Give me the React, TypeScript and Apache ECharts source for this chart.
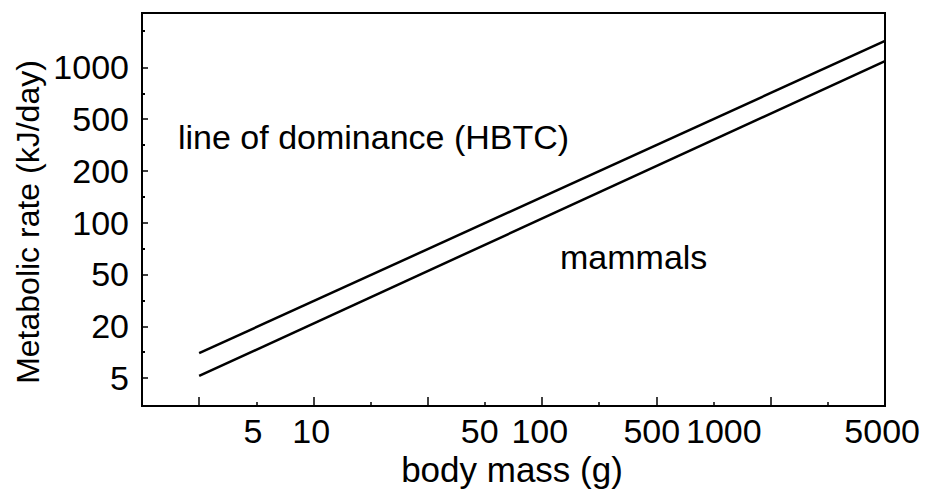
import React, { useEffect, useRef } from "react";
import * as echarts from "echarts";

// Axis positions are in the figure's own evenly spaced tick units
const xTickLabels = ["5", "10", "50", "100", "500", "1000", "5000"];
const xLabelPos = [1.94, 2.96, 5.91, 6.96, 8.92, 10.18, 12.95];
const xMajorTicks = [1, 3, 5, 7, 9, 11];
const xMinorTicks = [2, 4, 6, 8, 10, 12];

const yTickLabels = ["5", "20", "50", "100", "200", "500", "1000"];
const yLabelPos = [0, 1, 2, 3, 4, 5, 6];
const yMinorTicks = [0.5, 1.5, 2.5, 3.5, 4.5, 5.5, 6.7];

const hbtcLine = [
  [1, 0.48],
  [13, 6.51],
];
const mammalsLine = [
  [1, 0.04],
  [13, 6.12],
];

const FONT = "'Liberation Sans', Arial, sans-serif";

export default function App() {
  const ref = useRef<HTMLDivElement>(null);
  useEffect(() => {
    if (!ref.current) return;
    const chart = echarts.init(ref.current, null, { renderer: "svg" });
    const xLabelFor = (v: number) => {
      const i = xLabelPos.findIndex((p) => Math.abs(p - v) < 1e-6);
      return i >= 0 ? xTickLabels[i] : "";
    };
    const yLabelFor = (v: number) => {
      const i = yLabelPos.findIndex((p) => Math.abs(p - v) < 1e-6);
      return i >= 0 ? yTickLabels[i] : "";
    };
    const common = { color: "#000", fontFamily: FONT };
    chart.setOption({
      animation: false,
      backgroundColor: "#fff",
      grid: {
        left: 142,
        right: 40,
        top: 13,
        bottom: 86,
        show: true,
        borderColor: "#000",
        borderWidth: 2,
        containLabel: false,
      },
      xAxis: [
        {
          type: "value",
          min: 0,
          max: 13,
          position: "bottom",
          axisLine: { show: true, onZero: false, lineStyle: { color: "#000", width: 2 } },
          axisTick: {
            show: true,
            inside: true,
            length: 9,
            customValues: xMajorTicks,
            lineStyle: { color: "#000", width: 1.5 },
          },
          axisLabel: {
            show: true,
            customValues: xLabelPos,
            formatter: (v: number) => xLabelFor(v),
            margin: 8,
            fontSize: 34,
            ...common,
          },
          splitLine: { show: false },
        },
        {
          type: "value",
          min: 0,
          max: 13,
          position: "bottom",
          axisLine: { show: false, onZero: false },
          axisTick: {
            show: true,
            inside: true,
            length: 4,
            customValues: xMinorTicks,
            lineStyle: { color: "#000", width: 1.5 },
          },
          axisLabel: { show: false },
          splitLine: { show: false },
        },
      ],
      yAxis: [
        {
          type: "value",
          min: -0.54,
          max: 7.05,
          position: "left",
          axisLine: { show: true, onZero: false, lineStyle: { color: "#000", width: 2 } },
          axisTick: {
            show: true,
            inside: true,
            length: 6,
            customValues: yLabelPos,
            lineStyle: { color: "#000", width: 1.5 },
          },
          axisLabel: {
            show: true,
            customValues: yLabelPos,
            formatter: (v: number) => yLabelFor(v),
            margin: 13,
            fontSize: 34,
            ...common,
          },
          splitLine: { show: false },
        },
        {
          type: "value",
          min: -0.54,
          max: 7.05,
          position: "left",
          axisLine: { show: false, onZero: false },
          axisTick: {
            show: true,
            inside: true,
            length: 3,
            customValues: yMinorTicks,
            lineStyle: { color: "#000", width: 2 },
          },
          axisLabel: { show: false },
          splitLine: { show: false },
        },
      ],
      series: [
        {
          name: "line of dominance (HBTC)",
          type: "line",
          xAxisIndex: 0,
          yAxisIndex: 0,
          data: hbtcLine,
          symbol: "none",
          lineStyle: { color: "#000", width: 2.5 },
        },
        {
          name: "mammals",
          type: "line",
          xAxisIndex: 0,
          yAxisIndex: 0,
          data: mammalsLine,
          symbol: "none",
          lineStyle: { color: "#000", width: 2.5 },
        },
      ],
      graphic: [
        {
          type: "text",
          x: 28,
          y: 222,
          rotation: Math.PI / 2,
          style: {
            text: "Metabolic rate (kJ/day)",
            fontSize: 32,
            fontFamily: FONT,
            fill: "#000",
            textAlign: "center",
            textVerticalAlign: "middle",
          },
        },
        {
          type: "text",
          x: 512,
          y: 469,
          style: {
            text: "body mass (g)",
            fontSize: 35,
            fontFamily: FONT,
            fill: "#000",
            textAlign: "center",
            textVerticalAlign: "middle",
          },
        },
        {
          type: "text",
          x: 178,
          y: 137,
          style: {
            text: "line of dominance (HBTC)",
            fontSize: 34,
            fontFamily: FONT,
            fill: "#000",
            textAlign: "left",
            textVerticalAlign: "middle",
          },
        },
        {
          type: "text",
          x: 560,
          y: 257,
          style: {
            text: "mammals",
            fontSize: 34,
            fontFamily: FONT,
            fill: "#000",
            textAlign: "left",
            textVerticalAlign: "middle",
          },
        },
      ],
    });
    return () => chart.dispose();
  }, []);
  return (
    <div
      ref={ref}
      style={{ position: "fixed", left: 0, top: 0, width: 925, height: 492, background: "#fff" }}
    />
  );
}
